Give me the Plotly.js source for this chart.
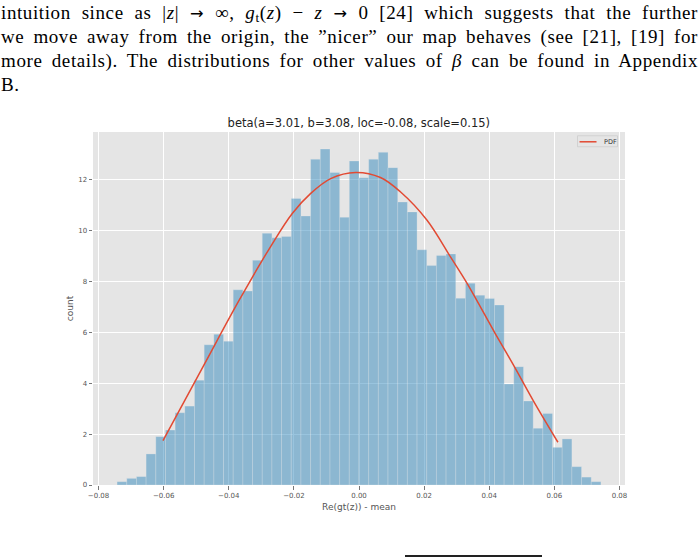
<!DOCTYPE html>
<html>
<head>
<meta charset="utf-8">
<script src="https://cdn.plot.ly/plotly-3.0.1.min.js"></script>
<style>
  html, body { margin:0; padding:0; background:#fff; }
  #wrap { position:relative; width:699px; height:560px; overflow:hidden; }
  #chart { position:absolute; left:0; top:0; width:699px; height:560px; }
  .ln { position:absolute; left:1px; width:697px; font-family:"Liberation Serif", "DejaVu Serif", serif;
        font-size:19px; letter-spacing:0.6px; line-height:24px; color:#000; text-align:justify; text-align-last:justify; z-index:5; }
  .ln.last { text-align:left; text-align-last:left; }
  .ln sub { font-size:0.7em; vertical-align:-0.25em; line-height:0; }
  .ar { font-family:"DejaVu Sans", sans-serif; font-size:0.85em; }
  #ovl { position:absolute; left:405px; top:555px; width:137px; height:1.5px; background:#222; z-index:5; }
</style>
</head>
<body>
<div id="wrap">
  <div id="chart"></div>
  <div class="ln" style="top:1px">intuition since as |<i>z</i>| <span class="ar">→</span> ∞, <i>g</i><sub>t</sub>(<i>z</i>) − <i>z</i> <span class="ar">→</span> 0 [24] which suggests that the further</div>
  <div class="ln" style="top:25px">we move away from the origin, the ”nicer” our map behaves (see [21], [19] for</div>
  <div class="ln" style="top:49px">more details). The distributions for other values of <i>β</i> can be found in Appendix</div>
  <div class="ln last" style="top:73px">B.</div>
  <div id="ovl"></div>
</div>
<script>
// ---- data ----
const binEdgeMin = -0.0743;
const binEdgeMax = 0.0743;
const densities = [
  0.13, 0.26, 0.33, 1.22, 1.90, 2.16, 2.84, 3.10, 4.12, 5.51,
  5.92, 5.65, 7.67, 7.62, 8.83, 9.89, 9.71, 9.76, 11.26, 10.57,
  12.80, 13.20, 12.28, 10.52, 12.73, 12.07, 12.80, 13.07, 12.47, 11.12,
  10.73, 9.24, 8.62, 9.02, 9.08, 7.34, 7.93, 7.46, 7.33, 7.07,
  3.97, 4.65, 3.30, 2.23, 2.81, 1.48, 1.81, 0.72, 0.31, 0.13
];
const pdfX = [-0.0602, -0.0476, -0.0368, -0.0271, -0.0205, -0.0149, -0.0087, -0.0010, 0.0066,
              0.0127, 0.0209, 0.0281, 0.0332, 0.0418, 0.0475, 0.0536, 0.0611];
const pdfY = [1.74, 4.72, 7.26, 9.38, 10.67, 11.45, 12.04, 12.28, 12.08,
              11.52, 10.40, 8.96, 7.92, 5.96, 4.70, 3.30, 1.68];
const xTickVals = [-0.08, -0.06, -0.04, -0.02, 0.00, 0.02, 0.04, 0.06, 0.08];
const xTickText = ["\u22120.08", "\u22120.06", "\u22120.04", "\u22120.02", "0.00", "0.02", "0.04", "0.06", "0.08"];
const yTickVals = [0, 2, 4, 6, 8, 10, 12];
const yTickText = ["0", "2", "4", "6", "8", "10", "12"];
const titleText = "beta(a=3.01, b=3.08, loc=-0.08, scale=0.15)";
const xTitle = "Re(gt(z)) - mean";
const yTitle = "count";
const legendLabel = "PDF";

// ---- build ----
const nBins = densities.length;
const binW = (binEdgeMax - binEdgeMin) / nBins;
const centers = densities.map((_, i) => binEdgeMin + binW * (i + 0.5));

// plot geometry (pixels)
const W = 699, H = 560;
const L = 92.7, R = 625, T = 131.7, B = 485;
const fx = px => (px - L) / (R - L);
const fy = py => (B - py) / (B - T);

const tickFont = { family: "DejaVu Sans", size: 7, color: "#555555" };
const labFont = { family: "DejaVu Sans", size: 9, color: "#555555" };

const traces = [
  {
    type: "bar", x: centers, y: densities, width: binW,
    marker: { color: "rgba(52,138,189,0.5)", line: { color: "rgba(238,238,238,0.5)", width: 0.5 } },
    showlegend: false, hoverinfo: "x+y"
  },
  {
    type: "scatter", mode: "lines", x: pdfX, y: pdfY, name: legendLabel,
    line: { color: "#E24A33", width: 1.5, shape: "spline", smoothing: 1 },
    showlegend: false
  }
];

const layout = {
  width: W, height: H,
  margin: { l: L, r: W - R, t: T, b: H - B, pad: 0 },
  paper_bgcolor: "#ffffff",
  plot_bgcolor: "#E5E5E5",
  bargap: 0,
  title: {
    text: titleText, x: (L + R) / 2 / W, xanchor: "center",
    y: 1 - 123 / H, yanchor: "middle", yref: "container",
    font: { family: "DejaVu Sans", size: 11.5, color: "#222222" }
  },
  xaxis: {
    range: [-0.0817, 0.0817], tickmode: "array", tickvals: xTickVals, ticktext: xTickText,
    showgrid: true, gridcolor: "#ffffff", gridwidth: 1, zeroline: false, showline: false,
    ticks: "outside", ticklen: 3.5, tickcolor: "#555555", tickwidth: 0.8,
    tickfont: tickFont,
    title: { text: xTitle, font: labFont, standoff: 4 }
  },
  yaxis: {
    range: [0, 13.87], tickmode: "array", tickvals: yTickVals, ticktext: yTickText,
    showgrid: true, gridcolor: "#ffffff", gridwidth: 1, zeroline: false, showline: false,
    ticks: "outside", ticklen: 3.5, tickcolor: "#555555", tickwidth: 0.8,
    tickfont: tickFont,
    title: { text: yTitle, font: labFont, standoff: 3 }
  },
  shapes: [
    { type: "rect", xref: "paper", yref: "paper", x0: fx(577.5), x1: fx(617.5), y0: fy(146.5), y1: fy(135.5),
      fillcolor: "rgba(229,229,229,0.8)", line: { color: "#CCCCCC", width: 0.8 } },
    { type: "line", xref: "paper", yref: "paper", x0: fx(579.5), x1: fx(596.5), y0: fy(141.5), y1: fy(141.5),
      line: { color: "#E24A33", width: 1.5 } }
  ],
  annotations: [
    { text: legendLabel, xref: "paper", yref: "paper", x: fx(602), y: fy(141.5), xanchor: "left", yanchor: "middle",
      showarrow: false, font: { family: "DejaVu Sans", size: 6.5, color: "#333333" } }
  ],
  showlegend: false
};

Plotly.newPlot("chart", traces, layout, { displayModeBar: false, staticPlot: true });
</script>
</body>
</html>
